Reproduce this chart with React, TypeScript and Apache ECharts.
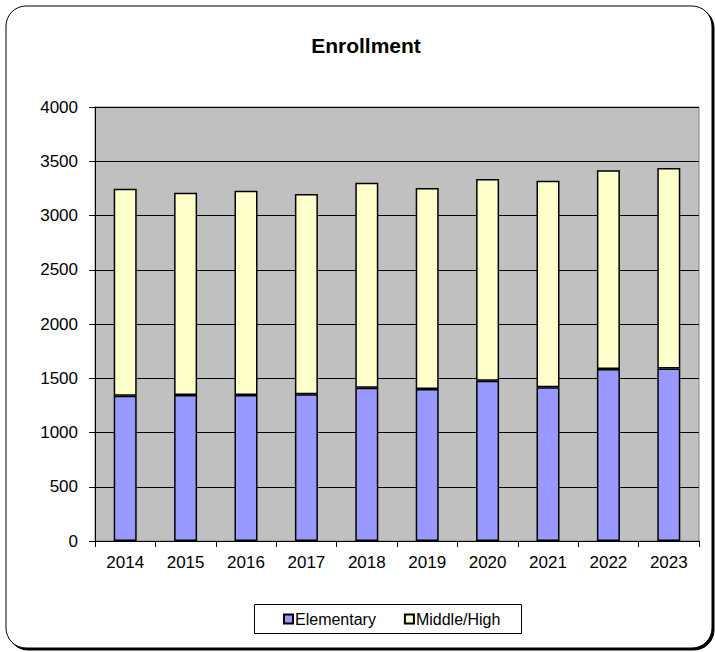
import React, { useEffect, useRef } from "react";
import * as echarts from "echarts";

const years = ["2014", "2015", "2016", "2017", "2018", "2019", "2020", "2021", "2022", "2023"];
const elementary = [1339, 1346, 1346, 1352, 1413, 1401, 1477, 1416, 1585, 1590];
const middleHigh = [1908, 1864, 1882, 1846, 1889, 1852, 1859, 1905, 1831, 1848];
const seriesNames = ["Elementary", "Middle/High"];
const titleText = "Enrollment";

const FONT = "'Liberation Sans', Arial, sans-serif";

export default function App() {
  const ref = useRef<HTMLDivElement>(null);
  useEffect(() => {
    if (!ref.current) return;
    const chart = echarts.init(ref.current, null, { renderer: "svg" });
    chart.setOption({
      animation: false,
      backgroundColor: "#ffffff",
      textStyle: { fontFamily: FONT },
      title: {
        text: titleText,
        left: 361,
        textAlign: "center",
        top: 30,
        textStyle: { fontSize: 21, fontWeight: "bold", color: "#000", fontFamily: FONT },
      },
      graphic: [
        {
          type: "rect",
          z: -10,
          shape: { x: 8, y: 8, width: 706, height: 642, r: 20 },
          style: { fill: "#000", stroke: "#000", lineWidth: 1 },
          silent: true,
        },
        {
          type: "rect",
          z: -9,
          shape: { x: 6, y: 6, width: 706, height: 642, r: 20 },
          style: { fill: "#fff", stroke: "#000", lineWidth: 1 },
          silent: true,
        },
        {
          type: "rect",
          z: -8,
          shape: { x: 254.5, y: 604.5, width: 267, height: 29 },
          style: { fill: "#fff", stroke: "#000", lineWidth: 1 },
          silent: true,
        },
      ],
      legend: {
        data: seriesNames,
        left: 283,
        top: 611,
        padding: 0,
        icon: "rect",
        itemWidth: 9,
        itemHeight: 9,
        itemGap: 28,
        textStyle: { fontSize: 16, color: "#000", fontFamily: FONT, padding: [0, 0, 0, -3] },
      },
      grid: {
        left: 95,
        right: 16,
        top: 107,
        bottom: 111,
        show: true,
        backgroundColor: "#c0c0c0",
        borderColor: "#808080",
        borderWidth: 1,
      },
      xAxis: {
        type: "category",
        data: years,
        boundaryGap: true,
        axisLine: { show: true, lineStyle: { color: "#000", width: 1 } },
        axisTick: { show: true, alignWithLabel: false, length: 6, lineStyle: { color: "#000" } },
        axisLabel: { fontSize: 17, color: "#000", margin: 13, fontFamily: FONT },
        splitLine: { show: false },
      },
      yAxis: {
        type: "value",
        min: 0,
        max: 4000,
        interval: 500,
        axisLine: { show: true, lineStyle: { color: "#000", width: 1 } },
        axisTick: { show: true, length: 6, lineStyle: { color: "#000" } },
        axisLabel: {
          fontSize: 17,
          color: "#000",
          margin: 17,
          fontFamily: FONT,
          formatter: (v: number) => String(v),
        },
        splitLine: { show: true, lineStyle: { color: "#000", width: 1 } },
      },
      series: [
        {
          name: seriesNames[0],
          type: "bar",
          stack: "total",
          data: elementary,
          barWidth: 23,
          itemStyle: { color: "#9999ff", borderColor: "#000", borderWidth: 1.5 },
        },
        {
          name: seriesNames[1],
          type: "bar",
          stack: "total",
          data: middleHigh,
          barWidth: 23,
          itemStyle: { color: "#ffffcc", borderColor: "#000", borderWidth: 1.5 },
        },
      ],
    });
    return () => chart.dispose();
  }, []);
  return (
    <div
      ref={ref}
      style={{ position: "fixed", left: 0, top: 0, width: 715, height: 652 }}
    />
  );
}
